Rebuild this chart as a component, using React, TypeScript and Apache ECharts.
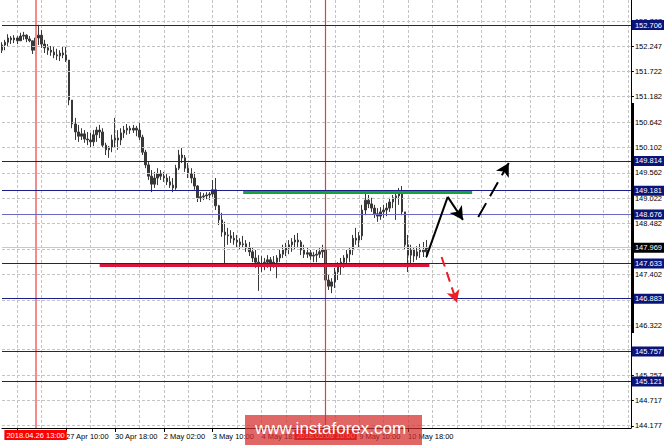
import React, { useEffect, useRef } from "react";
import * as echarts from "echarts";

const FONT = "Liberation Sans";
const MONTHS = ["Jan", "Feb", "Mar", "Apr", "May", "Jun", "Jul", "Aug", "Sep", "Oct", "Nov", "Dec"];

// 2-hour bars, GBP/JPY style price chart
const START_UTC = Date.UTC(2018, 3, 25, 16, 0);
const CATEGORY_COUNT = 207;

const opens = [
  152.17, 152.28, 152.34, 152.43, 152.39, 152.43, 152.37, 152.47, 152.49, 152.41,
  152.37, 152.17, 152.43, 152.49, 152.30, 152.22, 152.17, 152.13, 152.07, 152.05,
  152.11, 152.07, 151.96, 151.11, 150.60, 150.43, 150.34, 150.39, 150.28, 150.26,
  150.22, 150.37, 150.47, 150.43, 150.15, 150.05, 150.11, 150.26, 150.30, 150.26,
  150.41, 150.47, 150.51, 150.47, 150.51, 150.47, 150.32, 150.00, 149.73, 149.49,
  149.32, 149.45, 149.54, 149.49, 149.45, 149.37, 149.30, 149.24, 149.66, 149.94,
  149.88, 149.66, 149.54, 149.45, 149.28, 149.03, 149.05, 149.07, 149.09, 149.11,
  149.20, 148.86, 148.56, 148.30, 148.24, 148.22, 148.17, 148.13, 148.09, 148.03,
  148.05, 147.96, 147.88, 147.75, 147.66, 147.60, 147.62, 147.66, 147.71, 147.62,
  147.66, 147.75, 147.83, 147.92, 147.96, 148.03, 148.09, 148.13, 148.09, 147.92,
  147.83, 147.86, 147.79, 147.81, 147.83, 147.88, 147.92, 147.28, 147.15, 147.24,
  147.45, 147.58, 147.66, 147.75, 147.83, 147.92, 148.17, 148.13, 148.22, 148.77,
  148.98, 148.90, 148.81, 148.69, 148.64, 148.73, 148.77, 148.81, 148.94, 149.03,
  149.07, 149.15, 148.73, 148.03, 147.81, 147.92, 147.79, 147.88, 147.92, 147.88,
];
const closes = [
  152.28, 152.34, 152.43, 152.39, 152.43, 152.37, 152.47, 152.49, 152.41, 152.37,
  152.17, 152.43, 152.49, 152.30, 152.22, 152.17, 152.13, 152.07, 152.05, 152.11,
  152.07, 151.96, 151.11, 150.60, 150.43, 150.34, 150.39, 150.28, 150.26, 150.22,
  150.37, 150.47, 150.43, 150.15, 150.05, 150.11, 150.26, 150.30, 150.26, 150.41,
  150.47, 150.51, 150.47, 150.51, 150.47, 150.32, 150.00, 149.73, 149.49, 149.32,
  149.45, 149.54, 149.49, 149.45, 149.37, 149.30, 149.24, 149.66, 149.94, 149.88,
  149.66, 149.54, 149.45, 149.28, 149.03, 149.05, 149.07, 149.09, 149.11, 149.20,
  148.86, 148.56, 148.30, 148.24, 148.22, 148.17, 148.13, 148.09, 148.03, 148.05,
  147.96, 147.88, 147.75, 147.66, 147.60, 147.62, 147.66, 147.71, 147.62, 147.66,
  147.75, 147.83, 147.92, 147.96, 148.03, 148.09, 148.13, 148.09, 147.92, 147.83,
  147.86, 147.79, 147.81, 147.83, 147.88, 147.92, 147.28, 147.15, 147.24, 147.45,
  147.58, 147.66, 147.75, 147.83, 147.92, 148.17, 148.13, 148.22, 148.77, 148.98,
  148.90, 148.81, 148.69, 148.64, 148.73, 148.77, 148.81, 148.94, 149.03, 149.07,
  149.15, 148.73, 148.03, 147.81, 147.92, 147.79, 147.88, 147.92, 147.88, 147.969,
];
const lows = [
  152.11, 152.17, 152.26, 152.30, 152.32, 152.30, 152.37, 152.39, 152.34, 152.34,
  152.09, 152.17, 152.28, 152.22, 152.11, 152.07, 152.05, 152.00, 151.96, 151.94,
  152.00, 151.92, 151.00, 150.51, 150.26, 150.22, 150.26, 150.20, 150.15, 150.11,
  150.13, 150.22, 150.30, 150.09, 149.94, 149.88, 150.00, 150.09, 150.05, 150.15,
  150.30, 150.37, 150.39, 150.41, 150.34, 150.26, 149.94, 149.66, 149.41, 149.15,
  149.24, 149.30, 149.41, 149.37, 149.30, 149.24, 149.15, 149.20, 149.62, 149.77,
  149.58, 149.45, 149.34, 149.20, 148.94, 148.94, 148.98, 149.00, 148.98, 149.05,
  148.77, 148.45, 148.20, 147.62, 148.03, 148.07, 148.03, 147.98, 147.92, 147.96,
  147.88, 147.79, 147.66, 147.54, 147.05, 147.45, 147.49, 147.54, 147.47, 147.54,
  147.32, 147.66, 147.75, 147.79, 147.83, 147.88, 147.92, 147.96, 147.81, 147.75,
  147.75, 147.71, 147.66, 147.66, 147.75, 147.75, 147.17, 147.07, 147.00, 147.11,
  147.28, 147.39, 147.54, 147.60, 147.66, 147.81, 148.03, 147.96, 148.13, 148.66,
  148.81, 148.73, 148.60, 148.52, 148.56, 148.60, 148.64, 148.73, 148.81, 148.56,
  148.88, 148.66, 147.92, 147.45, 147.60, 147.66, 147.71, 147.75, 147.77, 147.75,
];
const highs = [
  152.34, 152.39, 152.51, 152.47, 152.49, 152.47, 152.54, 152.56, 152.51, 152.47,
  152.37, 152.49, 152.71, 152.60, 152.39, 152.30, 152.26, 152.24, 152.20, 152.17,
  152.24, 152.24, 151.96, 151.11, 150.73, 150.58, 150.51, 150.47, 150.43, 150.41,
  150.47, 150.54, 150.58, 150.51, 150.20, 150.13, 150.37, 150.73, 150.47, 150.51,
  150.56, 150.60, 150.56, 150.58, 150.56, 150.62, 150.37, 150.05, 149.79, 149.62,
  149.58, 149.66, 149.62, 149.58, 149.54, 149.49, 149.45, 149.73, 150.05, 150.09,
  149.94, 149.77, 149.66, 149.58, 149.30, 149.15, 149.13, 149.15, 149.15, 149.41,
  149.45, 148.88, 148.71, 148.52, 148.39, 148.34, 148.30, 148.24, 148.17, 148.22,
  148.13, 148.09, 147.98, 147.92, 147.81, 147.79, 147.75, 147.81, 147.77, 147.79,
  147.81, 147.92, 148.03, 148.07, 148.13, 148.17, 148.24, 148.28, 148.13, 148.03,
  147.96, 147.92, 147.88, 147.92, 147.96, 148.03, 147.92, 147.39, 147.32, 147.54,
  147.66, 147.75, 147.81, 147.92, 147.96, 148.24, 148.39, 148.30, 148.88, 149.13,
  149.09, 149.03, 148.88, 148.81, 148.83, 148.88, 148.92, 149.03, 149.09, 149.15,
  149.24, 149.28, 148.73, 148.24, 148.03, 147.96, 148.00, 148.05, 148.09, 148.13,
];

// price scale ticks and the labels that remain visible beside the level boxes
const yTickValues = [
  144.177, 144.717, 145.257, 145.797, 146.322, 146.862, 147.402, 147.942,
  148.482, 149.022, 149.562, 150.102, 150.642, 151.182, 151.722, 152.247, 152.787,
];
const yLabelValues = [
  144.177, 144.717, 145.257, 146.322, 147.402,
  148.482, 149.022, 149.562, 150.102, 150.642, 151.182, 151.722, 152.247, 152.787,
];
// horizontal levels drawn on the chart
const levelValues = [152.706, 149.814, 149.181, 148.676, 147.633, 146.883, 145.757, 145.121];
const lightLevel = 148.676;
const currentPrice = 147.969;

// vertical time markers [category index, label, line colour, line width]
const timeMarkers: [number, string, string, number][] = [
  [11, "2018.04.26 13:00", "#f48a8a", 2],
  [106, "2018.05.08 10:00", "#f03a3a", 1.2],
];

// trend lines: [startIndex, endIndex, price]
const resistanceLine = [79, 154, 149.15];
const supportLine = [32, 140, 147.6];

// forecast arrows (category index, price)
const arrowUpLeg = [[139, 147.77], [146, 149.05]];
const arrowDownLeg = [[146, 149.05], [151, 148.56]];
const arrowBreakUp = [[156, 148.62], [166, 149.77]];
const arrowBreakDown = [[144, 147.77], [149, 146.8]];

const Y_MIN = 144.132;
const Y_MAX = 153.238;

function buildCategories(): string[] {
  const out: string[] = [];
  let t = START_UTC;
  while (out.length < CATEGORY_COUNT) {
    const d = new Date(t);
    const dow = d.getUTCDay();
    if (dow !== 0 && dow !== 6) {
      out.push(
        `${d.getUTCDate()} ${MONTHS[d.getUTCMonth()]} ${String(d.getUTCHours()).padStart(2, "0")}:00`
      );
    }
    t += 2 * 3600 * 1000;
  }
  return out;
}

export default function App() {
  const ref = useRef<HTMLDivElement>(null);

  useEffect(() => {
    if (!ref.current) return;
    const chart = echarts.init(ref.current, undefined, { renderer: "svg" });
    const categories = buildCategories();
    const candles = opens.map((o, i) => [o, closes[i], lows[i], highs[i]]);

    const navy = "#1c1c8a";
    const levelLabel = (bg: string, v: number) => ({
      show: true,
      position: "end",
      distance: 1,
      formatter: v.toFixed(3),
      backgroundColor: bg,
      color: "#fff",
      padding: [1, 2, 1, 3],
      fontSize: 7.5,
      fontFamily: FONT,
    });

    const option: any = {
      animation: false,
      textStyle: { fontFamily: FONT },
      grid: { left: 2, right: 33, top: 0, bottom: 17 },
      xAxis: {
        type: "category",
        data: categories,
        boundaryGap: false,
        axisLine: { lineStyle: { color: "#000", width: 1 } },
        axisTick: {
          show: true,
          length: 4,
          interval: (i: number) => i >= 5 && i <= 133 && (i - 5) % 16 === 0,
          lineStyle: { color: "#000" },
        },
        axisLabel: {
          interval: (i: number) => i >= 21 && i <= 133 && i !== 101 && (i - 5) % 16 === 0,
          align: "left",
          margin: 4,
          fontSize: 7.5,
          color: "#000",
          fontFamily: FONT,
        },
        splitLine: {
          show: true,
          interval: (i: number) => (i - 5) % 8 === 0,
          lineStyle: { color: "#c4c4c4", type: [3, 2], width: 1 },
        },
      },
      yAxis: {
        type: "value",
        position: "right",
        min: Y_MIN,
        max: Y_MAX,
        axisLine: { show: true, lineStyle: { color: "#000" } },
        axisTick: { show: true, length: 3, customValues: yTickValues, lineStyle: { color: "#000" } },
        axisLabel: {
          customValues: yLabelValues,
          formatter: (v: number) => v.toFixed(3),
          margin: 4,
          fontSize: 7.5,
          color: "#000",
          fontFamily: FONT,
        },
        splitLine: { show: false },
      },
      series: [
        {
          type: "line",
          data: [],
          z: 1,
          silent: true,
          markLine: {
            silent: true,
            symbol: ["none", "none"],
            label: { show: false },
            emphasis: { disabled: true },
            lineStyle: { color: "#c4c4c4", type: [3, 2], width: 1 },
            data: yTickValues.map((v) => ({ yAxis: v })),
          },
        },
        {
          type: "line",
          data: [],
          z: 2,
          silent: true,
          markLine: {
            silent: true,
            symbol: ["none", "none"],
            emphasis: { disabled: true },
            precision: 3,
            data: [
              {
                yAxis: currentPrice,
                lineStyle: { color: "#c8c8c8", type: "solid", width: 1 },
                label: levelLabel("#000", currentPrice),
              },
            ],
          },
        },
        {
          type: "line",
          data: [],
          z: 2,
          silent: true,
          markLine: {
            silent: true,
            symbol: ["none", "none"],
            emphasis: { disabled: true },
            data: timeMarkers.map(([idx, text, color, width]) => [
              {
                coord: [idx, Y_MIN],
                lineStyle: { color, type: "solid", width },
                label: {
                  show: true,
                  position: "start",
                  distance: 2,
                  formatter: text,
                  backgroundColor: "#ff0000",
                  color: "#fff",
                  padding: [1, 2, 1, 2],
                  fontSize: 7.5,
                  fontFamily: FONT,
                },
              },
              { coord: [idx, Y_MAX] },
            ]),
          },
        },
        {
          type: "candlestick",
          data: candles,
          z: 3,
          barWidth: 2,
          silent: true,
          itemStyle: {
            color: "#383838",
            color0: "#383838",
            borderColor: "#383838",
            borderColor0: "#383838",
            borderWidth: 1,
          },
        },
        {
          type: "line",
          data: [],
          z: 4,
          silent: true,
          markLine: {
            silent: true,
            symbol: ["none", "none"],
            emphasis: { disabled: true },
            precision: 3,
            data: levelValues.map((v) => ({
              yAxis: v,
              lineStyle: {
                color: v === lightLevel ? "#6a6ac4" : navy,
                type: "solid",
                width: 1,
              },
              label: levelLabel("#0a1478", v),
            })),
          },
        },
        {
          type: "line",
          data: [],
          z: 5,
          silent: true,
          markLine: {
            silent: true,
            symbol: ["none", "none"],
            label: { show: false },
            emphasis: { disabled: true },
            data: [
              [
                { coord: [resistanceLine[0], resistanceLine[2]], lineStyle: { color: "#14a33a", width: 3, type: "solid" } },
                { coord: [resistanceLine[1], resistanceLine[2]] },
              ],
              [
                { coord: [supportLine[0], supportLine[2]], lineStyle: { color: "#d8163c", width: 3, type: "solid" } },
                { coord: [supportLine[1], supportLine[2]] },
              ],
              [
                { coord: arrowUpLeg[0], lineStyle: { color: "#000", width: 2, type: "solid" } },
                { coord: arrowUpLeg[1] },
              ],
              [
                { coord: arrowDownLeg[0], lineStyle: { color: "#000", width: 2, type: "solid" } },
                { coord: arrowDownLeg[1], symbol: "arrow", symbolSize: [11, 13] },
              ],
              [
                { coord: arrowBreakUp[0], lineStyle: { color: "#000", width: 2, type: [16, 8] } },
                { coord: arrowBreakUp[1], symbol: "arrow", symbolSize: [11, 13] },
              ],
              [
                { coord: arrowBreakDown[0], lineStyle: { color: "#ee1c24", width: 2, type: [10, 6] } },
                { coord: arrowBreakDown[1], symbol: "arrow", symbolSize: [10, 12] },
              ],
            ],
          },
        },
      ],
      graphic: [
        {
          type: "rect",
          left: 631,
          top: 103,
          shape: { width: 3, height: 230 },
          style: { fill: "#000" },
          z: 50,
        },
        {
          type: "rect",
          left: 245,
          top: 415,
          shape: { width: 177, height: 30 },
          style: { fill: "rgba(214, 44, 44, 0.72)" },
          z: 100,
        },
        {
          type: "text",
          left: 255,
          top: 420,
          style: { text: "www.instaforex.com", fill: "#fff", font: `17px "${FONT}"` },
          z: 101,
        },
      ],
    };

    chart.setOption(option);
    return () => chart.dispose();
  }, []);

  return (
    <div
      ref={ref}
      style={{ position: "fixed", left: 0, top: 0, width: 665, height: 445, background: "#fff" }}
    />
  );
}
